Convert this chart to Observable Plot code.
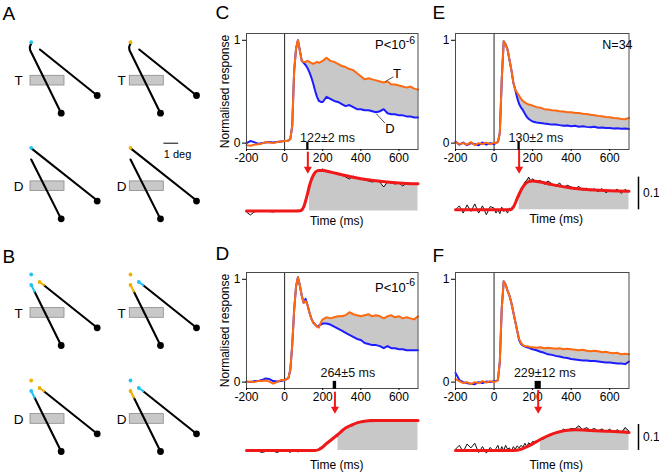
<!DOCTYPE html>
<html><head><meta charset="utf-8">
<script src="https://cdn.jsdelivr.net/npm/d3@7"></script>
<script src="https://cdn.jsdelivr.net/npm/@observablehq/plot@0.6"></script>
<style>
html,body{margin:0;padding:0;background:#fff;}
#fig{position:relative;width:659px;height:476px;overflow:hidden;background:#fff;}
</style></head><body><div id="fig"></div>
<script>
// ---------------- DATA ----------------
const TIME = [-200,-180,-160,-140,-120,-100,-80,-60,-40,-20,0,10,20,30,40,50,60,70,80,90,100,110,120,130,140,150,160,170,180,190,200,220,240,260,280,300,320,340,360,380,400,420,440,460,480,500,520,540,560,580,600,620,640,660,680,700];
const X_TICKS = [-200, 0, 200, 400, 600];
const Y_TICKS = [0, 1];

// Panel C
const C_T = [-0.02,-0.025,-0.015,-0.01,-0.005,0.01,0.005,0.0,0.01,0.015,0.02, 0.02,0.025,0.04,0.17,0.70,0.92,1.0,0.90,0.80, 0.79,0.79,0.80,0.79,0.78,0.77,0.78,0.79,0.78,0.79, 0.80, 0.83,0.80,0.79,0.77,0.75,0.74,0.72,0.71,0.68, 0.65,0.62,0.63,0.62,0.61,0.60,0.59,0.60,0.57,0.57, 0.56,0.55,0.54,0.55,0.53,0.52];
const C_D = [0.0,0.02,0.01,-0.005,0.0,0.005,0.01,0.005,0.01,0.015,0.02, 0.02,0.025,0.04,0.17,0.70,0.92,1.0,0.90,0.80, 0.78,0.76,0.73,0.69,0.64,0.58,0.51,0.45,0.41,0.40, 0.40, 0.45,0.43,0.41,0.40,0.38,0.36,0.37,0.35,0.33, 0.33,0.32,0.32,0.31,0.30,0.31,0.33,0.29,0.28,0.28, 0.27,0.27,0.26,0.26,0.25,0.25];
const C_DIFF = [-0.01,-0.04,-0.01,0.0,0.005,0.0,-0.005,-0.01,0.0,0.005,0.0, -0.005,0.0,0.0,0.0,0.005,0.0,0.01,0.0,0.02, 0.05,0.10,0.17,0.25,0.31,0.36,0.39,0.40,0.41,0.41, 0.42, 0.40,0.39,0.38,0.37,0.36,0.34,0.32,0.35,0.33, 0.32,0.31,0.30,0.29,0.30,0.29,0.24,0.29,0.28,0.27, 0.28,0.25,0.28,0.27,0.27,0.265];
const C_FIT_T = [-200,60,80,90,100,110,120,130,140,150,160,170,180,200,240,300,400,500,600,700];
const C_FIT_V = [0,0,0.002,0.01,0.04,0.10,0.17,0.25,0.31,0.355,0.385,0.40,0.405,0.405,0.39,0.362,0.322,0.298,0.281,0.272];

// Panel D
const D_T = [0.0,0.005,0.0,0.01,0.01,0.015,0.005,-0.015,0.0,0.02,0.02, 0.03,0.04,0.12,0.36,0.70,0.93,1.02,0.94,0.84, 0.77,0.79,0.75,0.68,0.62,0.58,0.56,0.54,0.53,0.58, 0.61, 0.63,0.62,0.63,0.64,0.64,0.65,0.68,0.66,0.65, 0.64,0.65,0.66,0.64,0.65,0.64,0.62,0.64,0.65,0.63, 0.64,0.62,0.63,0.62,0.61,0.64];
const D_D = [0.005,0.0,0.01,0.01,0.02,0.035,0.03,0.01,0.005,0.01,0.02, 0.03,0.04,0.12,0.36,0.70,0.93,1.02,0.94,0.84, 0.77,0.81,0.75,0.68,0.62,0.58,0.56,0.54,0.55,0.56, 0.57, 0.57,0.56,0.54,0.52,0.50,0.48,0.46,0.44,0.42, 0.41,0.38,0.37,0.36,0.36,0.35,0.33,0.35,0.33,0.33, 0.32,0.32,0.31,0.31,0.31,0.31];
const D_DIFF = [0.0,0.005,-0.01,-0.005,-0.02,-0.01,0.01,-0.005,-0.02,-0.005,0.01, 0.0,-0.01,-0.02,0.005,-0.01,0.0,-0.015,-0.005,0.0, -0.01,0.005,-0.01,0.0,0.0,-0.005,0.01,0.0,0.02,0.03, 0.04, 0.07,0.09,0.12,0.16,0.2,0.22,0.24,0.25,0.28, 0.29,0.29,0.30,0.31,0.30,0.31,0.30,0.31,0.30,0.29, 0.31,0.30,0.30,0.31,0.30,0.29];
const D_FIT_T = [-200,160,180,200,220,240,260,280,300,320,340,360,380,400,420,440,480,700];
const D_FIT_V = [0,0,0.01,0.035,0.07,0.10,0.13,0.16,0.195,0.225,0.245,0.262,0.276,0.286,0.293,0.297,0.3,0.3];

// Panel E
const E_T = [0.01,-0.01,0.0,-0.015,0.01,-0.02,0.0,-0.01,0.005,-0.01,0.005, 0.0,0.01,0.10,0.62,0.99,0.96,0.91,0.81,0.71, 0.59,0.52,0.49,0.46,0.43,0.41,0.395,0.385,0.375,0.37, 0.365, 0.35,0.345,0.33,0.328,0.32,0.318,0.31,0.308,0.30, 0.3,0.292,0.293,0.285,0.283,0.275,0.272,0.265,0.262,0.255, 0.252,0.245,0.243,0.235,0.232,0.245];
const E_D = [0.015,-0.015,0.005,-0.02,0.0,-0.01,-0.02,0.005,-0.015,0.0,-0.01, 0.005,0.01,0.10,0.62,0.99,0.96,0.91,0.81,0.71, 0.59,0.52,0.44,0.38,0.345,0.32,0.285,0.255,0.235,0.222, 0.21, 0.2,0.195,0.19,0.186,0.18,0.182,0.175,0.17,0.172, 0.165,0.168,0.16,0.163,0.158,0.155,0.16,0.15,0.152,0.146, 0.148,0.143,0.145,0.14,0.142,0.138];
const E_DIFF = [0.0,0.012,-0.01,0.015,-0.005,0.018,-0.01,0.012,-0.015,0.01,0.005, -0.01,0.0,-0.012,0.008,-0.005,0.0,-0.01,0.005,0.0, 0.01,0.02,0.035,0.04,0.06,0.07,0.085,0.09,0.1,0.088, 0.095, 0.085,0.09,0.078,0.088,0.08,0.072,0.082,0.068,0.075, 0.07,0.062,0.072,0.06,0.066,0.058,0.064,0.055,0.065,0.052, 0.06,0.056,0.063,0.05,0.062,0.055];
const E_FIT_T = [-200,80,90,100,110,120,130,140,150,160,180,200,240,300,400,500,600,700];
const E_FIT_V = [0,0,0.002,0.008,0.02,0.035,0.048,0.06,0.07,0.078,0.086,0.088,0.085,0.077,0.067,0.061,0.058,0.057];

// Panel F
const F_T = [0.03,0.01,-0.01,0.0,-0.02,0.0,-0.01,0.01,-0.005,0.01,0.0, 0.01,0.02,0.2,0.72,0.98,0.95,0.89,0.84,0.77, 0.68,0.59,0.50,0.42,0.38,0.36,0.35,0.35,0.345,0.34, 0.34, 0.335,0.34,0.33,0.335,0.33,0.325,0.33,0.32,0.325, 0.32,0.315,0.31,0.315,0.305,0.3,0.305,0.3,0.29,0.295, 0.285,0.28,0.285,0.27,0.275,0.27];
const F_D = [0.09,0.02,0.0,-0.01,-0.015,-0.02,0.0,-0.01,0.005,0.0,0.01, 0.01,0.02,0.2,0.72,0.98,0.95,0.89,0.84,0.77, 0.68,0.59,0.50,0.41,0.37,0.355,0.345,0.34,0.335,0.325, 0.32, 0.31,0.295,0.285,0.27,0.265,0.255,0.25,0.24,0.235, 0.225,0.22,0.215,0.21,0.21,0.205,0.205,0.2,0.195,0.19, 0.19,0.185,0.18,0.18,0.175,0.2];
const F_DIFF = [0.005,0.02,-0.005,0.025,0.01,0.028,-0.008,0.015,-0.01,0.012,-0.005, 0.008,0.02,-0.006,0.015,0.0,0.02,0.005,0.01,-0.004, 0.015,0.005,0.018,0.01,0.02,0.012,0.028,0.015,0.03,0.022, 0.035, 0.03,0.042,0.045,0.058,0.06,0.068,0.07,0.082,0.076, 0.085,0.083,0.095,0.08,0.088,0.078,0.085,0.075,0.083,0.072, 0.082,0.07,0.08,0.068,0.088,0.075];
const F_FIT_T = [-200,100,140,180,220,260,300,340,380,420,460,500,600,700];
const F_FIT_V = [0,0,0.005,0.018,0.034,0.05,0.063,0.072,0.078,0.08,0.079,0.077,0.074,0.069];

// Latencies (ms) and their errors
const LATENCY = {C: 122, D: 264, E: 130, F: 229};
const LAT_ERR = {C: 2, D: 5, E: 2, F: 12};
const LAT_TEXT = {C: "122±2 ms", D: "264±5 ms", E: "130±2 ms", F: "229±12 ms"};
const LAT_TEXT_POS = {C: [225, 0.05], D: [332, 0.085], E: [217, 0.05], F: [263, 0.085]};
const NOTES = {C: "P<10-6", D: "P<10-6", E: "N=34", F: null};
const SCALE_BAR = {C: null, D: null, E: 0.1, F: 0.1};
const C_CURVE_LABELS = [{text: "T", t: 589, v: 0.677}, {text: "D", t: 553, v: 0.139}];
const C_LEADERS = [{t1: 571, v1: 0.645, t2: 527, v2: 0.597}, {t1: 527, v1: 0.194, t2: 482, v2: 0.284}];

// ---------------- STYLE / LAYOUT ----------------
const FONT = "'Liberation Sans', Arial, Helvetica, sans-serif";
const ORANGE = "#ff6a10", BLUE = "#1c1cff", GRAY = "#c8c8c8", RED = "#f01818";
const CYAN = "#22c3f3", GOLD = "#efb000";
const STYLE = `font-family:${FONT};font-size:12px;overflow:visible;background:transparent;color:#000;position:absolute;max-width:none;`;
const fig = document.getElementById("fig");
function place(el, left, top) { el.style.left = left + "px"; el.style.top = top + "px"; fig.appendChild(el); return el; }

const LAYOUT = {
  C: {left: 210, top: 0,   width: 220, mL: 36, mR: 12.5, mT: 33, ylabel: true, letter: [-31, -20.3],
      bTop: 150, bmT: 1.7, base: 210.5, k: 100, arrow: 21.6, timeDx: 4.5, timeDy: 4.2},
  D: {left: 210, top: 240, width: 220, mL: 36, mR: 12.5, mT: 32, ylabel: true, letter: [-31, -18.7],
      bTop: 390, bmT: 1.7, base: 450, k: 100, arrow: 21.6, timeDx: 4.5, timeDy: 8.7},
  E: {left: 430, top: 0,   width: 229, mL: 25, mR: 30.5, mT: 33, ylabel: false, letter: [-23, -20.3],
      bTop: 150, bmT: 0, base: 209.3, k: 327, arrow: 23.3, timeDx: 14, timeDy: 2.2},
  F: {left: 430, top: 240, width: 229, mL: 25, mR: 30.5, mT: 32, ylabel: false, letter: [-23, -17],
      bTop: 390, bmT: 0, base: 450, k: 260, arrow: 23.3, timeDx: 14, timeDy: 8.7}
};
const Y_DOMAIN = [-0.062, 1.066];

const SERIES = {
  C: [C_T, C_D, C_DIFF, C_FIT_T, C_FIT_V],
  D: [D_T, D_D, D_DIFF, D_FIT_T, D_FIT_V],
  E: [E_T, E_D, E_DIFF, E_FIT_T, E_FIT_V],
  F: [F_T, F_D, F_DIFF, F_FIT_T, F_FIT_V]
};

function superscripts(svg) {
  d3.select(svg).selectAll("text").each(function () {
    if (this.textContent === "P<10-6") {
      const t = d3.select(this);
      t.text("P<10");
      t.append("tspan").attr("dy", "-0.5em").attr("font-size", "0.8em").text("-6");
    }
  });
}

for (const key of ["C", "D", "E", "F"]) {
  const L = LAYOUT[key];
  const [T, D, DIFF, FT, FV] = SERIES[key];
  const rows = TIME.map((t, i) => ({t, T: T[i], D: D[i], diff: DIFF[i]}));
  const fit = FT.map((t, i) => ({t, v: FV[i]}));
  const lat = LATENCY[key], err = LAT_ERR[key];

  // ---- main panel ----
  const mainH = 166;
  const marks = [
    Plot.areaY(rows.filter(d => d.t >= 0), {x: "t", y1: "D", y2: d => Math.max(d.T, d.D), fill: GRAY}),
    Plot.ruleX([0], {stroke: "#222", strokeWidth: 1}),
    Plot.lineY(rows, {x: "t", y: "D", stroke: BLUE, strokeWidth: 2}),
    Plot.lineY(rows, {x: "t", y: "T", stroke: ORANGE, strokeWidth: 2}),
    Plot.frame({stroke: "#4a4a4a", strokeWidth: 1}),
    Plot.axisY({ticks: Y_TICKS, tickSize: 4, tickPadding: 2, tickFormat: d => String(d), label: null, fontSize: 12}),
    Plot.axisX({ticks: X_TICKS, tickSize: 2, tickPadding: 2, tickFormat: d => String(d), label: null, fontSize: 12}),
    Plot.rect([{lat, err}], {x1: d => d.lat - d.err, x2: d => d.lat + d.err, y1: Y_DOMAIN[0], y2: 0, fill: "#000", stroke: "#000", strokeWidth: 1.5}),
    Plot.text([LAT_TEXT[key]], {x: LAT_TEXT_POS[key][0], y: LAT_TEXT_POS[key][1], fontSize: 12.5, fill: "#111"}),
    Plot.text([key], {frameAnchor: "top-left", dx: L.letter[0], dy: L.letter[1], textAnchor: "start", lineAnchor: "middle", fontSize: 19})
  ];
  if (NOTES[key]) {
    if (key === "E") marks.push(Plot.text([NOTES[key]], {x: 640, y: 0.956, fontSize: 12.5}));
    else marks.push(Plot.text([NOTES[key]], {x: 700, y: key === "C" ? 0.956 : 0.92, dx: -3, textAnchor: "end", fontSize: 13}));
  }
  if (L.ylabel) marks.push(Plot.text(["Normalised response"], {frameAnchor: "left", dx: -21.5, rotate: -90, textAnchor: "middle", lineAnchor: "middle", fontSize: 12}));
  if (key === "C") {
    marks.push(Plot.link(C_LEADERS, {x1: "t1", y1: "v1", x2: "t2", y2: "v2", stroke: "#555", strokeWidth: 1}));
    marks.push(Plot.text(C_CURVE_LABELS, {x: "t", y: "v", text: "text", fontSize: 13}));
  }
  const main = Plot.plot({
    width: L.width, height: mainH,
    marginLeft: L.mL, marginRight: L.mR, marginTop: L.mT, marginBottom: mainH - L.mT - (149 - 33),
    style: STYLE,
    x: {domain: [-200, 700]},
    y: {domain: Y_DOMAIN},
    marks
  });
  superscripts(main);
  place(main, L.left, L.top);

  // ---- difference panel ----
  const bH = 80;
  const frameTop = L.bTop + L.bmT;
  const frameBottom = L.bTop + 66;
  const yHi = (L.base - frameTop) / L.k;
  const yLo = (L.base - frameBottom) / L.k;
  const headY = yHi - (L.arrow - 4.7) / L.k;
  const bmarks = [
    Plot.areaY(rows.filter(d => d.t >= lat), {x: "t", y: "diff", fill: GRAY}),
    Plot.lineY(rows, {x: "t", y: "diff", stroke: "#111", strokeWidth: 1}),
    Plot.lineY(fit, {x: "t", y: "v", stroke: RED, strokeWidth: 3, curve: "monotone-x"}),
    Plot.ruleX([lat], {y1: yHi, y2: headY, stroke: RED, strokeWidth: 2}),
    Plot.dot([lat], {x: d => d, y: headY, symbol: "triangle", rotate: 180, r: 3, fill: RED, stroke: "none"}),
    Plot.text(["Time (ms)"], {frameAnchor: "bottom", dx: L.timeDx, dy: L.timeDy, lineAnchor: "middle", fontSize: 12})
  ];
  if (SCALE_BAR[key]) {
    bmarks.push(Plot.ruleX([700], {y1: 0, y2: SCALE_BAR[key], dx: 9.5, stroke: "#000", strokeWidth: 1.5}));
    bmarks.push(Plot.text([String(SCALE_BAR[key])], {x: 700, y: SCALE_BAR[key] / 2, dx: 14, textAnchor: "start", fontSize: 12}));
  }
  const bottom = Plot.plot({
    width: L.width, height: bH,
    marginLeft: L.mL, marginRight: L.mR, marginTop: L.bmT, marginBottom: bH - 66,
    style: STYLE,
    x: {domain: [-200, 700], axis: null},
    y: {domain: [yLo, yHi], axis: null},
    marks: bmarks
  });
  place(bottom, L.left, L.bTop);
}

// ---------------- SCHEMATICS (panels A, B) ----------------
const MINI_COLS = [30.7, 130];
const A_ROWS = [41.7, 147.3], B_ROWS = [274, 380];
const ROW_NAMES = ["T", "D"];
const LABEL_DX = [-12.5, -9];
const A_TRACES = {
  T: [[[-0.1, 1.4], [-1.4, 4.8], [-1, 8.1], [30, 71]], [[8.7, 7.3], [66, 53.3]]],
  D: [[[0.5, 0.8], [66, 52.7]], [[0, 11.7], [30, 71.3]]]
};
const B_COLORS = {T: [[CYAN, CYAN, GOLD], [GOLD, GOLD, CYAN]], D: [[GOLD, CYAN, GOLD], [CYAN, GOLD, CYAN]]};
const B_DOTS = [[0, 0], [0, 10.5], [8.3, 7.5]];
const B_BLACK = [[[3.3, 17], [30, 71]], [[12.7, 10.7], [66, 53.3]]];
const B_COLORED = [[[0, 10.5], [3.3, 17]], [[8.3, 7.5], [12.7, 10.7]]];
const TARGETS = [[30, 71], [66, 53.3]];
const BOX = {x1: -0.7, x2: 33.3, y1: 33.6, y2: 43.3};

const lines = [], cLines = [], fixDots = [], targets = [], boxes = [], rowLabels = [];
let lid = 0;
function addLine(arr, pts, ox, oy, color) { const id = lid++; pts.forEach(([x, y]) => arr.push({id, x: ox + x, y: oy + y, color})); }
function addCommon(ox, oy, c, r) {
  TARGETS.forEach(([x, y]) => targets.push({x: ox + x, y: oy + y}));
  boxes.push({x1: ox + BOX.x1, x2: ox + BOX.x2, y1: oy + BOX.y1, y2: oy + BOX.y2});
  rowLabels.push({x: ox + LABEL_DX[c], y: oy + 38.8, text: ROW_NAMES[r]});
}
A_ROWS.forEach((oy, r) => MINI_COLS.forEach((ox, c) => {
  addCommon(ox, oy, c, r);
  A_TRACES[ROW_NAMES[r]].forEach(p => addLine(lines, p, ox, oy, "#000"));
  fixDots.push({x: ox, y: oy, color: c === 0 ? CYAN : GOLD});
}));
B_ROWS.forEach((oy, r) => MINI_COLS.forEach((ox, c) => {
  addCommon(ox, oy, c, r);
  const cols = B_COLORS[ROW_NAMES[r]][c];
  B_BLACK.forEach(p => addLine(lines, p, ox, oy, "#000"));
  B_COLORED.forEach((p, j) => addLine(cLines, p, ox, oy, cols[j + 1]));
  B_DOTS.forEach(([x, y], j) => fixDots.push({x: ox + x, y: oy + y, color: cols[j]}));
}));
const SCALE_DEG = [{x: 163.3, y: 142.7}, {x: 177.3, y: 142.7}];
const LETTERS = [{text: "A", x: 2, y: 13.5}, {text: "B", x: 2, y: 256}];

const schem = Plot.plot({
  width: 210, height: 476, margin: 0,
  style: STYLE,
  x: {domain: [0, 210], range: [0, 210], axis: null},
  y: {domain: [0, 476], range: [0, 476], axis: null},
  color: {type: "identity"},
  marks: [
    Plot.rect(boxes, {x1: "x1", x2: "x2", y1: "y1", y2: "y2", fill: "#c8c8c8", stroke: "#8a8a8a", strokeWidth: 0.8}),
    Plot.line(lines, {x: "x", y: "y", z: "id", stroke: "color", strokeWidth: 2.1, strokeLinecap: "round"}),
    Plot.line(cLines, {x: "x", y: "y", z: "id", stroke: "color", strokeWidth: 2.1, strokeLinecap: "round"}),
    Plot.dot(targets, {x: "x", y: "y", r: 3.4, fill: "#000"}),
    Plot.dot(fixDots, {x: "x", y: "y", r: 1.9, fill: "color"}),
    Plot.text(rowLabels, {x: "x", y: "y", text: "text", fontSize: 13.5}),
    Plot.line(SCALE_DEG, {x: "x", y: "y", stroke: "#000", strokeWidth: 1}),
    Plot.text(["1 deg"], {x: 163.3, y: 154.3, textAnchor: "start", fontSize: 11}),
    Plot.text(LETTERS, {x: "x", y: "y", text: "text", textAnchor: "start", fontSize: 19})
  ]
});
place(schem, 0, 0);
</script></body></html>
